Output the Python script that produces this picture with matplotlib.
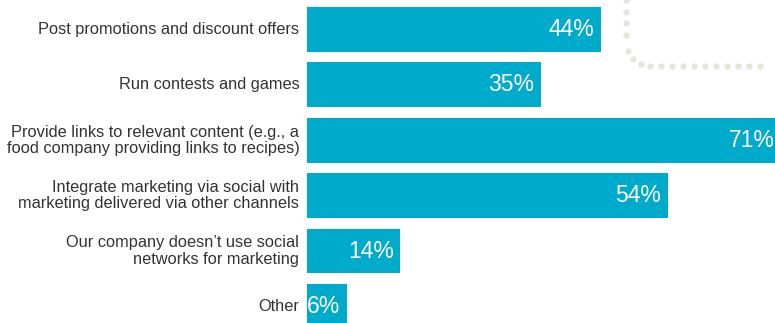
import matplotlib.pyplot as plt
import numpy as np

plt.rcParams['font.family'] = ['Liberation Sans', 'DejaVu Sans']

labels = [
    "Post promotions and discount offers",
    "Run contests and games",
    "Provide links to relevant content (e.g., a\nfood company providing links to recipes)",
    "Integrate marketing via social with\nmarketing delivered via other channels",
    "Our company doesn\u2019t use social\nnetworks for marketing",
    "Other",
]
values = [44, 35, 71, 54, 14, 6]

bar_color = "#00aacb"
dot_color = "#e6e4d8"

fig = plt.figure(figsize=(7.75, 3.23), dpi=100)
ax = fig.add_axes([307 / 775, 0, 468 / 775, 1])

y = np.arange(len(values))
ax.barh(y, values, height=0.81, color=bar_color)
ax.set_xlim(0, 70.1)
ax.set_ylim(5.30, -0.532)
ax.axis("off")

for yi, v, lab in zip(y, values, labels):
    ax.text(v - 1.0, yi, f"{v}%", ha="right", va="center",
            color="white", fontsize=16.5, clip_on=False)
    ax.annotate(lab, xy=(0, yi), xytext=(-5.5, 0), textcoords="offset points",
                ha="right", va="center", fontsize=11.8, color="#333333",
                multialignment="right", linespacing=1.1, annotation_clip=False)

# dotted corner in the upper right
W, H = 775, 323
pts = []
for py in np.arange(0, 40, 11.5):
    pts.append((626, py))
theta = np.linspace(np.pi, 1.5 * np.pi, 5)[1:-1]
r = 24
for t in theta:
    pts.append((650 + r * np.cos(t), 42 - r * np.sin(t)))
for px in np.arange(650, 770, 11):
    pts.append((px, 66))
pts = np.array(pts)
fig.add_artist(plt.Line2D(pts[:, 0] / W, 1 - pts[:, 1] / H, ls="none",
                          marker="o", ms=4.5, mfc=dot_color, mec="none",
                          transform=fig.transFigure, zorder=0))

plt.savefig("out.png", dpi=100)
